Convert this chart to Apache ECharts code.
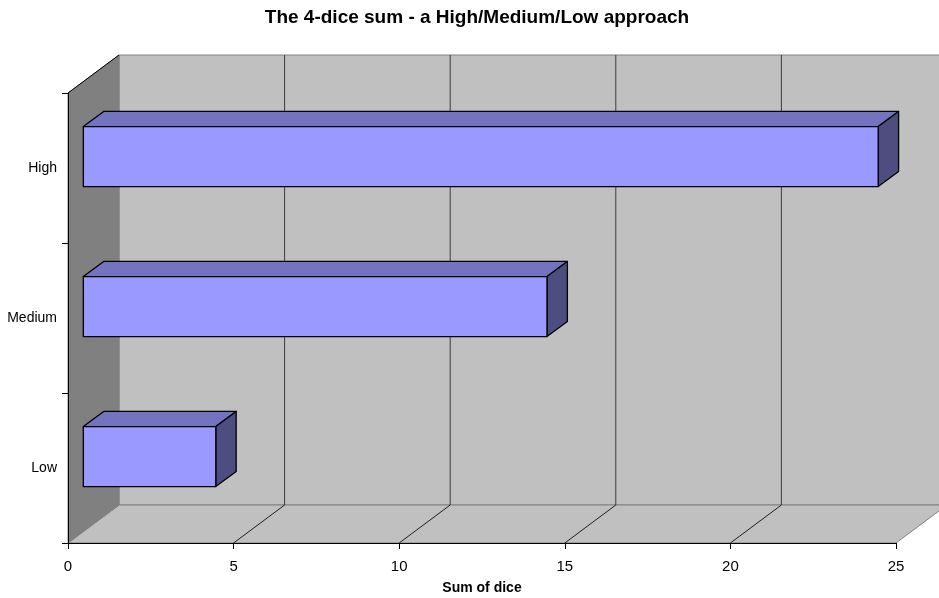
<!DOCTYPE html>
<html>
<head>
<meta charset="utf-8">
<style>
  html, body { margin: 0; padding: 0; background: #ffffff; }
  #chart { width: 939px; height: 598px; }
</style>
<script src="https://cdn.jsdelivr.net/npm/echarts@6/dist/echarts.min.js"></script>
</head>
<body>
<div id="chart"></div>
<script>
// Chart data
const categories = ['Low', 'Medium', 'High'];
const diceSums = [4, 14, 24];
const xTicks = [0, 5, 10, 15, 20, 25];

// 3D look: depth offset of the back wall (pixels) and bar depth band
const DEPTH_X = 51;
const DEPTH_Y = -38;
const BAR_FRONT = 0.3;
const BAR_BACK = 0.7;
const BAR_THICK = 0.4;

const FONT = '"Liberation Sans", Arial, sans-serif';

const chart = echarts.init(document.getElementById('chart'), null, { renderer: 'canvas' });

// Walls, floor and gridlines of the 3D box
function renderBox(params, api) {
  const cs = params.coordSys;
  const x0 = cs.x, y0 = cs.y, w = cs.width, h = cs.height;
  const yb = y0 + h;
  const children = [];
  // back wall
  children.push({
    type: 'rect',
    shape: { x: x0 + DEPTH_X, y: y0 + DEPTH_Y, width: w, height: h },
    style: { fill: '#c0c0c0', stroke: '#808080', lineWidth: 1 }
  });
  // floor
  children.push({
    type: 'polygon',
    shape: { points: [[x0, yb], [x0 + w, yb], [x0 + w + DEPTH_X, yb + DEPTH_Y], [x0 + DEPTH_X, yb + DEPTH_Y]] },
    style: { fill: '#c0c0c0', stroke: '#808080', lineWidth: 1 }
  });
  // left side wall
  children.push({
    type: 'polygon',
    shape: { points: [[x0, y0], [x0 + DEPTH_X, y0 + DEPTH_Y], [x0 + DEPTH_X, yb + DEPTH_Y], [x0, yb]] },
    style: { fill: '#808080', stroke: '#808080', lineWidth: 1 }
  });
  // top edge of the side wall
  children.push({
    type: 'line',
    shape: { x1: x0, y1: y0, x2: x0 + DEPTH_X, y2: y0 + DEPTH_Y },
    style: { stroke: '#000000', lineWidth: 1 }
  });
  // gridlines on back wall and floor
  xTicks.forEach(function (t) {
    if (t <= xTicks[0] || t >= xTicks[xTicks.length - 1]) return;
    const px = api.coord([t, 0])[0];
    children.push({
      type: 'line',
      shape: { x1: px + DEPTH_X, y1: y0 + DEPTH_Y, x2: px + DEPTH_X, y2: yb + DEPTH_Y },
      style: { stroke: '#3c3c3c', lineWidth: 1 }
    });
    children.push({
      type: 'line',
      shape: { x1: px, y1: yb, x2: px + DEPTH_X, y2: yb + DEPTH_Y },
      style: { stroke: '#1e1e1e', lineWidth: 1 }
    });
  });
  return { type: 'group', children: children };
}

// 3D bar: front face, top face and end face
function renderBar(params, api) {
  const v = api.value(0);
  const c = api.value(1);
  const start = api.coord([0, c]);
  const end = api.coord([v, c]);
  const band = api.size([0, 1])[1];
  const bh = band * BAR_THICK;
  const fx0 = start[0] + BAR_FRONT * DEPTH_X;
  const fx1 = end[0] + BAR_FRONT * DEPTH_X;
  const fy0 = start[1] + BAR_FRONT * DEPTH_Y - bh / 2;
  const fy1 = fy0 + bh;
  const ox = (BAR_BACK - BAR_FRONT) * DEPTH_X;
  const oy = (BAR_BACK - BAR_FRONT) * DEPTH_Y;
  const edge = { stroke: '#000000', lineWidth: 1.3, lineJoin: 'round' };
  return {
    type: 'group',
    children: [
      {
        type: 'polygon',
        shape: { points: [[fx0, fy0], [fx1, fy0], [fx1 + ox, fy0 + oy], [fx0 + ox, fy0 + oy]] },
        style: Object.assign({ fill: '#7373bf' }, edge)
      },
      {
        type: 'polygon',
        shape: { points: [[fx1, fy0], [fx1 + ox, fy0 + oy], [fx1 + ox, fy1 + oy], [fx1, fy1]] },
        style: Object.assign({ fill: '#4d4d80' }, edge)
      },
      {
        type: 'rect',
        shape: { x: fx0, y: fy0, width: fx1 - fx0, height: bh },
        style: Object.assign({ fill: '#9999ff' }, edge)
      }
    ]
  };
}

const option = {
  backgroundColor: '#ffffff',
  animation: false,
  title: {
    text: 'The 4-dice sum - a High/Medium/Low approach',
    left: 477,
    top: 8,
    padding: 0,
    textAlign: 'center',
    textStyle: { fontFamily: FONT, fontSize: 19, fontWeight: 'bold', color: '#000000' }
  },
  grid: { left: 68, top: 93, width: 828, height: 450, containLabel: false, outerBoundsMode: 'none' },
  xAxis: {
    type: 'value',
    min: xTicks[0],
    max: xTicks[xTicks.length - 1],
    interval: xTicks[1] - xTicks[0],
    z: 10,
    name: 'Sum of dice',
    nameLocation: 'middle',
    nameGap: 38,
    nameTextStyle: { fontFamily: FONT, fontSize: 14, fontWeight: 'bold', color: '#000000' },
    axisLine: { show: true, lineStyle: { color: '#000000', width: 1 } },
    axisTick: { show: true, length: 6, lineStyle: { color: '#000000' } },
    axisLabel: { margin: 16, fontFamily: FONT, fontSize: 15, color: '#000000' },
    splitLine: { show: false }
  },
  yAxis: {
    type: 'category',
    data: categories,
    z: 10,
    axisLine: { show: true, lineStyle: { color: '#000000', width: 1 } },
    axisTick: { show: true, length: 6, lineStyle: { color: '#000000' } },
    axisLabel: { margin: 11, fontFamily: FONT, fontSize: 14, color: '#000000' },
    splitLine: { show: false }
  },
  series: [
    {
      type: 'custom',
      name: 'box',
      z: 1,
      silent: true,
      clip: false,
      renderItem: renderBox,
      data: [[0, 0]]
    },
    {
      type: 'custom',
      name: 'Sum of dice',
      z: 3,
      clip: false,
      renderItem: renderBar,
      encode: { x: 0, y: 1 },
      data: diceSums.map(function (v, i) { return [v, i]; })
    }
  ]
};

chart.setOption(option);
</script>
</body>
</html>
